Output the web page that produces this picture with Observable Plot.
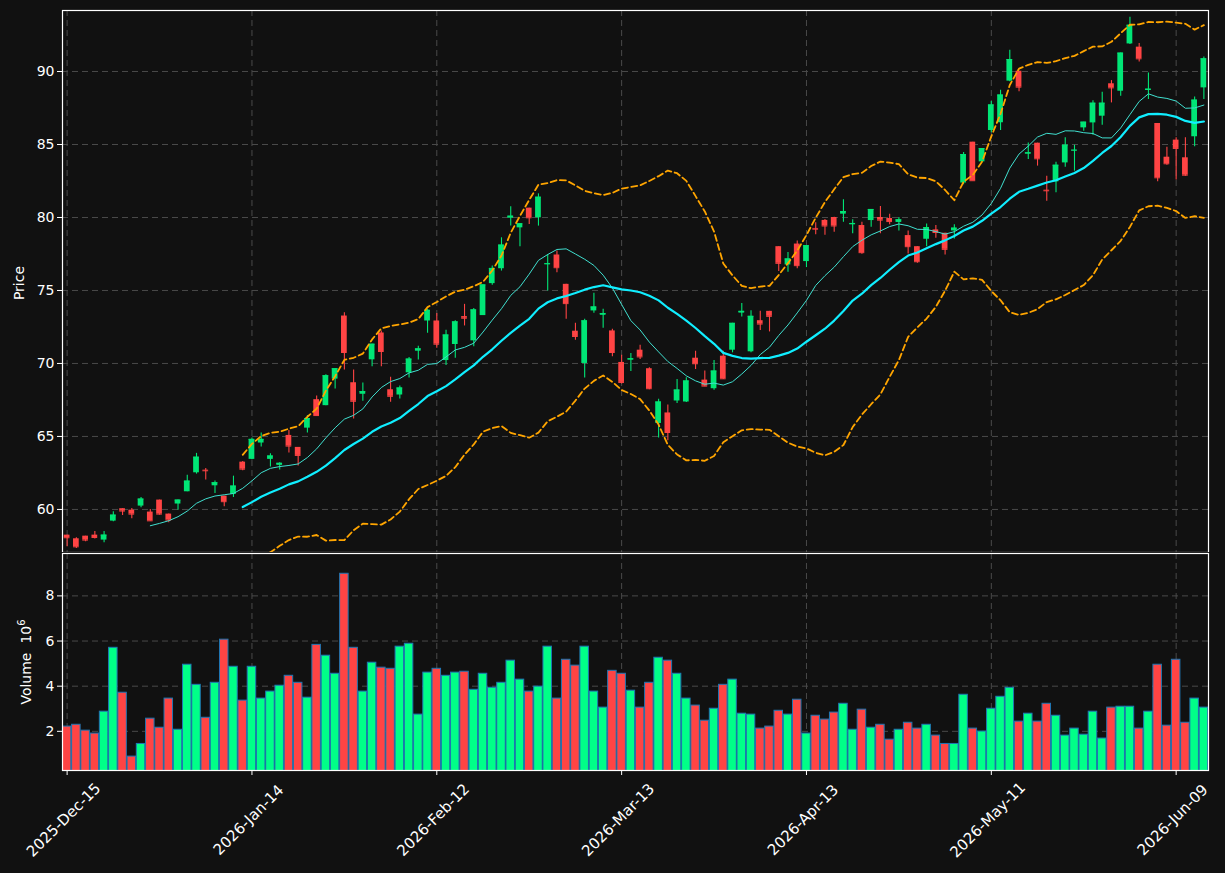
<!DOCTYPE html>
<html>
<head>
<meta charset="utf-8">
<script src="https://cdn.jsdelivr.net/npm/d3@7"></script>
<script src="https://cdn.jsdelivr.net/npm/@observablehq/plot@0.6"></script>
<style>
  html, body { margin: 0; padding: 0; background: #111111; }
  #wrap { position: relative; width: 1225px; height: 873px; background: #111111; overflow: hidden; font-family: "DejaVu Sans", sans-serif; }
  #wrap svg { position: absolute; left: 0; }
  .ylab { position: absolute; color: #ffffff; font-size: 14px; white-space: nowrap; transform: translate(-50%, -50%) rotate(-90deg); }
</style>
</head>
<body>
<div id="wrap"></div>
<script>
// ---- data (trading-day index 0..123) ----
const opens = [58.24,57.99,58.17,58.24,57.90,59.20,60.05,59.95,60.23,59.82,
  60.64,59.68,60.37,61.21,62.51,62.69,61.62,60.91,61.03,63.24,
  63.43,64.55,63.43,63.02,65.07,64.25,65.57,67.52,67.11,68.93,
  73.25,68.68,67.89,70.25,72.09,68.20,67.84,69.36,70.84,72.91,
  72.91,70.20,71.30,73.21,71.55,73.28,75.47,76.49,79.95,79.29,
  80.64,79.98,76.77,77.43,75.42,72.21,70.00,73.60,73.30,72.23,
  70.07,70.23,70.91,69.64,65.89,66.61,67.43,67.36,70.36,68.86,
  68.27,70.50,70.91,73.45,70.80,72.93,73.57,78.00,76.75,78.18,
  76.98,79.25,79.80,80.00,80.23,79.50,79.45,79.79,80.00,79.93,
  79.66,78.76,78.00,78.51,79.15,78.92,79.08,82.36,85.16,83.81,
  85.96,86.49,89.34,90.02,84.34,85.09,81.87,82.44,83.74,84.57,
  86.14,86.48,86.94,89.16,88.65,91.89,91.67,88.70,86.44,84.13,
  85.30,84.09,85.53,88.88];
const highs = [58.24,58.06,58.17,58.49,58.49,59.84,60.05,60.07,60.82,60.00,
  60.64,59.68,60.64,62.35,63.84,62.81,61.94,60.91,62.28,63.29,
  64.90,65.23,63.82,63.20,65.41,64.25,66.43,67.77,69.23,69.64,
  73.48,69.55,68.66,71.32,72.23,69.05,68.45,70.41,71.18,73.70,
  73.43,72.27,72.92,74.05,73.76,75.38,76.67,78.61,80.73,79.57,
  80.64,81.62,77.47,77.70,75.42,72.76,73.03,74.81,73.71,72.35,
  70.57,70.68,71.25,69.70,67.55,67.16,68.91,69.02,70.84,69.48,
  70.20,70.84,72.75,74.11,73.61,73.57,73.57,78.00,77.61,78.39,
  78.07,79.64,79.86,80.02,81.22,79.84,79.68,80.55,80.76,80.23,
  80.00,79.08,78.00,79.56,79.45,78.92,79.50,84.45,85.16,84.72,
  87.94,88.72,91.46,90.02,85.11,85.09,82.83,83.79,85.46,84.95,
  86.53,88.00,88.58,89.38,91.26,93.72,91.92,89.89,86.44,84.82,
  85.46,85.46,88.26,91.00];
const lows = [57.44,57.33,57.79,57.97,57.72,59.16,59.59,59.36,60.11,59.20,
  59.61,59.09,59.95,61.21,62.42,62.01,61.10,60.18,60.82,62.65,
  63.40,64.27,62.91,62.70,63.86,62.98,65.23,66.43,67.11,68.25,
  69.55,66.20,67.41,69.77,69.77,67.34,67.57,69.00,70.23,72.07,
  71.05,69.86,70.36,72.57,71.14,73.28,75.35,76.33,79.41,78.00,
  79.52,79.41,74.97,76.22,73.03,71.59,69.00,73.44,72.41,70.46,
  68.59,69.45,70.27,68.20,64.89,64.70,67.25,67.32,69.59,68.41,
  68.16,68.91,70.73,73.18,70.73,72.25,72.16,76.30,76.25,76.48,
  76.57,78.82,78.78,78.99,79.68,78.88,77.48,79.33,78.88,79.50,
  79.08,77.50,76.86,78.00,78.58,77.43,78.53,82.25,82.52,83.81,
  85.80,85.96,89.30,88.61,83.97,83.52,81.12,81.69,83.45,83.17,
  85.91,85.64,86.32,87.85,88.31,91.85,90.66,88.08,82.44,83.58,
  82.56,82.83,84.84,88.08];
const closes = [58.06,57.44,57.90,58.08,58.24,59.61,59.89,59.68,60.71,59.22,
  59.68,59.27,60.64,61.94,63.58,62.65,61.83,60.53,61.60,62.76,
  64.80,64.80,63.66,63.16,64.34,63.70,66.23,66.43,69.16,69.64,
  70.75,67.41,68.07,71.32,70.82,67.75,68.32,70.30,71.00,73.64,
  71.32,71.95,72.85,73.10,73.67,75.38,76.51,78.11,80.09,79.57,
  79.98,81.39,76.83,76.56,74.10,71.85,72.92,73.87,73.42,70.75,
  68.70,70.32,70.45,68.27,67.36,65.27,68.18,68.80,69.98,68.45,
  69.48,68.95,72.75,73.57,73.23,72.70,73.23,76.86,77.16,76.70,
  78.07,79.20,79.42,79.42,80.41,79.59,77.59,80.55,79.82,79.72,
  79.84,78.00,76.97,79.31,78.97,77.82,79.27,84.31,82.52,84.72,
  87.71,88.39,90.82,88.93,84.43,84.02,81.83,83.58,84.95,84.61,
  86.53,87.83,87.83,88.88,91.26,93.17,90.87,88.79,82.72,83.68,
  84.73,82.90,88.04,90.87];
const volumes = [2.21,2.29,2.03,1.90,2.87,5.70,3.71,0.88,1.44,2.56,
  2.16,3.45,2.07,4.95,4.06,2.60,4.15,6.06,4.86,3.36,
  4.86,3.45,3.76,4.02,4.46,4.15,3.49,5.83,5.35,4.55,
  8.98,5.70,3.76,5.04,4.82,4.77,5.75,5.88,2.74,4.60,
  4.77,4.46,4.60,4.64,3.84,4.55,3.93,4.15,5.13,4.29,
  3.76,3.98,5.75,3.45,5.17,4.91,5.75,3.76,3.05,4.68,
  4.55,3.80,3.05,4.15,5.26,5.13,4.55,3.45,3.14,2.47,
  3.00,4.06,4.29,2.78,2.74,2.12,2.21,2.91,2.74,3.40,
  1.90,2.69,2.52,2.83,3.22,2.07,2.96,2.16,2.29,1.63,
  2.07,2.38,2.12,2.29,1.81,1.44,1.44,3.62,2.12,1.99,
  3.00,3.53,3.93,2.43,2.78,2.43,3.22,2.69,1.81,2.12,
  1.85,2.87,1.68,3.05,3.09,3.09,2.12,2.87,4.95,2.25,
  5.17,2.38,3.45,3.05];
const xTickIndex = [0, 20, 40, 60, 80, 100, 120];
const xTickLabels = ["2025-Dec-15","2026-Jan-14","2026-Feb-12","2026-Mar-13","2026-Apr-13","2026-May-11","2026-Jun-09"];
const priceTicks = [60, 65, 70, 75, 80, 85, 90];
const volTicks = [2, 4, 6, 8];

// ---- styles ----
const UPC = "#00e676", DNC = "#ff4444", VUP = "#00ff88", VDN = "#ff4444";
const GRID = {stroke: "#4a4a4a", strokeOpacity: 1, strokeDasharray: "6,4", strokeWidth: 1};
const FONT = "DejaVu Sans, sans-serif";

// ---- table built from arrays ----
const rows = opens.map((o, i) => ({i, open: o, high: highs[i], low: lows[i], close: closes[i], vol: volumes[i], up: closes[i] >= o}));

function rolling(k) {
  return closes.map((c, i) => i < k - 1 ? null : d3.mean(closes.slice(i - k + 1, i + 1)));
}
const ma10 = rolling(10), ma20 = rolling(20);
const sd20 = closes.map((c, i) => i < 19 ? null : d3.deviation(closes.slice(i - 19, i + 1)));
const lines = rows.map((d, i) => ({i, ma10: ma10[i], ma20: ma20[i],
  upper: ma20[i] == null ? null : ma20[i] + 2 * sd20[i],
  lower: ma20[i] == null ? null : ma20[i] - 2 * sd20[i]}));
const tickRows = xTickIndex.map((v, k) => ({i: v, label: xTickLabels[k]}));

const xDomain = [-0.5, rows.length - 0.5];
const W = 1225, ML = 62, MR = 17;

const price = Plot.plot({
  width: W, height: 553,
  marginLeft: ML, marginRight: MR, marginTop: 10, marginBottom: 1,
  style: {background: "#111111", color: "#ffffff", fontFamily: FONT, fontSize: "14px", overflow: "visible"},
  x: {domain: xDomain, axis: null},
  y: {domain: [57.05, 94.18], axis: null},
  marks: [
    Plot.gridX(xTickIndex, GRID),
    Plot.gridY(priceTicks, GRID),
    Plot.ruleX(rows, {x: "i", y1: "low", y2: "high", stroke: d => d.up ? UPC : DNC, strokeWidth: 1.1}),
    Plot.rectY(rows, {x1: d => d.i - 0.31, x2: d => d.i + 0.31, y1: "open", y2: "close", fill: d => d.up ? UPC : DNC}),
    Plot.ruleY(rows, {x1: d => d.i - 0.31, x2: d => d.i + 0.31, y: "close", stroke: d => d.up ? UPC : DNC, strokeWidth: 1}),
    Plot.line(lines.filter(d => d.ma10 != null), {x: "i", y: "ma10", stroke: "#40e0d0", strokeWidth: 1, clip: true}),
    Plot.line(lines.filter(d => d.ma20 != null), {x: "i", y: "ma20", stroke: "#10eeff", strokeWidth: 2.2, clip: true}),
    Plot.line(lines.filter(d => d.upper != null), {x: "i", y: "upper", stroke: "#ffa500", strokeWidth: 1.8, strokeDasharray: "6,3.5", clip: true}),
    Plot.line(lines.filter(d => d.lower != null), {x: "i", y: "lower", stroke: "#ffa500", strokeWidth: 1.8, strokeDasharray: "6,3.5", clip: true}),
    Plot.axisY(priceTicks, {anchor: "left", tickSize: 5, tickPadding: 3, label: null, stroke: "#ffffff", fill: "#ffffff", fontSize: 14}),
    Plot.frame({stroke: "#ffffff", strokeWidth: 1.2})
  ]
});
price.style.top = "0px";

const vmin = d3.min(volumes), vmax = d3.max(volumes);
const volume = Plot.plot({
  width: W, height: 321,
  marginLeft: ML, marginRight: MR, marginTop: 1, marginBottom: 103,
  style: {background: "#111111", color: "#ffffff", fontFamily: FONT, fontSize: "14px", overflow: "visible"},
  x: {domain: xDomain, axis: null},
  y: {domain: [0.3 * vmin, 1.1 * vmax], axis: null},
  marks: [
    Plot.gridX(xTickIndex, GRID),
    Plot.gridY(volTicks, GRID),
    Plot.rectY(rows, {x1: d => d.i - 0.46, x2: d => d.i + 0.46, y1: 0, y2: "vol", fill: d => d.up ? VUP : VDN, stroke: "#1f77b4", strokeWidth: 1, clip: true}),
    Plot.axisY(volTicks, {anchor: "left", tickSize: 5, tickPadding: 3, label: null, stroke: "#ffffff", fill: "#ffffff", fontSize: 14}),
    Plot.axisX(xTickIndex, {anchor: "bottom", tickSize: 5, label: null, tickFormat: () => "", stroke: "#ffffff"}),
    Plot.text(tickRows, {x: "i", text: "label", frameAnchor: "bottom", dy: 53, rotate: -45, textAnchor: "middle", fill: "#ffffff", fontSize: 15}),
    Plot.frame({stroke: "#ffffff", strokeWidth: 1.2})
  ]
});
volume.style.top = "552px";

const wrap = document.getElementById("wrap");
wrap.appendChild(price);
wrap.appendChild(volume);

const l1 = document.createElement("div");
l1.className = "ylab"; l1.textContent = "Price";
l1.style.left = "19px"; l1.style.top = "283px";
wrap.appendChild(l1);
const l2 = document.createElement("div");
l2.className = "ylab";
l2.innerHTML = "Volume&nbsp;&nbsp;10<sup style=\"font-size:10px\">6</sup>";
l2.style.left = "25px"; l2.style.top = "662px";
wrap.appendChild(l2);
</script>
</body>
</html>
